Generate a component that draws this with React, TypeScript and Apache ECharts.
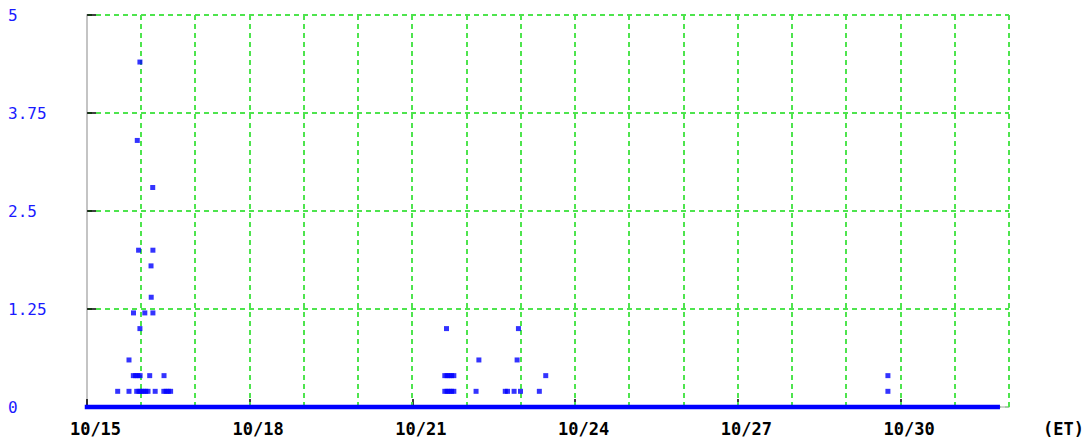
import React, { useEffect, useRef } from "react";
import * as echarts from "echarts";

const pointTimes: string[] = [
  // 10/15 - 10/16 cluster
  "10/15 23:25", "10/15 22:15", "10/16 05:05",
  "10/15 22:50", "10/16 05:10",
  "10/16 04:20", "10/16 04:25",
  "10/15 20:35", "10/16 01:35", "10/16 05:10",
  "10/15 23:25", "10/15 18:35",
  "10/15 20:30", "10/15 21:30", "10/15 22:30", "10/15 23:30", "10/16 03:45", "10/16 10:05",
  "10/15 13:35", "10/15 18:35", "10/15 22:00", "10/15 23:00", "10/16 00:00", "10/16 01:00",
  "10/16 02:00", "10/16 03:00", "10/16 06:10", "10/16 10:00", "10/16 11:00", "10/16 12:00", "10/16 13:00",
  // 10/21 - 10/23 cluster
  "10/21 15:05", "10/22 22:55",
  "10/22 05:25", "10/22 22:20",
  "10/21 14:20", "10/21 15:20", "10/21 16:20", "10/21 17:20", "10/21 18:20", "10/23 11:00",
  "10/21 14:20", "10/21 15:20", "10/21 16:20", "10/21 17:20", "10/21 18:20",
  "10/22 04:10", "10/22 17:05", "10/22 18:05", "10/22 21:00", "10/22 23:50", "10/23 08:10",
  // 10/29
  "10/29 18:25", "10/29 18:25",
];
const pointValues: number[] = [
  4.4, 3.4, 2.8,
  2.0, 2.0,
  1.8, 1.4,
  1.2, 1.2, 1.2,
  1.0, 0.6,
  0.4, 0.4, 0.4, 0.4, 0.4, 0.4,
  0.2, 0.2, 0.2, 0.2, 0.2, 0.2,
  0.2, 0.2, 0.2, 0.2, 0.2, 0.2, 0.2,
  1.0, 1.0,
  0.6, 0.6,
  0.4, 0.4, 0.4, 0.4, 0.4, 0.4,
  0.2, 0.2, 0.2, 0.2, 0.2,
  0.2, 0.2, 0.2, 0.2, 0.2, 0.2,
  0.4, 0.2,
];
// zero readings form a continuous baseline over this period
const zeroStart = "10/15 00:00";
const zeroEnd = "10/31 19:00";
const zeroValue = 0;

const startDay = 15; // axis begins 10/15 00:00
const axisDays = 17; // through 11/01 00:00
const labelDays: number[] = [15, 18, 21, 24, 27, 30];
const yTicks: number[] = [0, 1.25, 2.5, 3.75, 5];
const timeZoneLabel = "(ET)";

function toHours(t: string): number {
  const [md, hm] = t.split(" ");
  const [m, d] = md.split("/").map(Number);
  const [h, mi] = hm.split(":").map(Number);
  const dayOffset = (m === 11 ? d + 31 : d) - startDay;
  return dayOffset * 24 + h + mi / 60;
}

export default function App() {
  const ref = useRef<HTMLDivElement>(null);
  useEffect(() => {
    if (!ref.current) return;
    const chart = echarts.init(ref.current, null, { renderer: "svg" });
    const points = pointTimes.map((t, i) => [toHours(t), pointValues[i]]);
    const labelHours = labelDays.map((d) => (d - startDay) * 24);
    const dayLines: number[][] = [];
    for (let d = 1; d <= axisDays; d++) dayLines.push([d * 24]);
    const green = "#4ee44e";
    chart.setOption({
      animation: false,
      backgroundColor: "#ffffff",
      grid: { left: 87, right: 79, top: 15, bottom: 32, outerBoundsMode: "none" },
      xAxis: {
        type: "value",
        min: 0,
        max: axisDays * 24,
        interval: 24,
        axisLine: { show: true, lineStyle: { color: "#c4c4c4", width: 1.5 } },
        axisTick: {
          show: true,
          inside: true,
          length: 8,
          customValues: labelHours,
          lineStyle: { color: "#000000", width: 1.5 },
        },
        axisLabel: {
          customValues: labelHours,
          formatter: (v: number) => `10/${startDay + Math.round(v / 24)}`,
          color: "#000000",
          fontFamily: "DejaVu Sans Mono",
          fontWeight: "bold",
          fontSize: 17,
          margin: 13,
          padding: [0, 0, 0, 17],
        },
        splitLine: { show: false },
      },
      yAxis: {
        type: "value",
        min: yTicks[0],
        max: yTicks[yTicks.length - 1],
        interval: 1.25,
        axisLine: { show: true, lineStyle: { color: "#c4c4c4", width: 2 } },
        axisTick: { show: true, inside: true, length: 9, lineStyle: { color: "#000000", width: 1.5 } },
        axisLabel: {
          color: "#1a1aff",
          fontFamily: "DejaVu Sans Mono",
          fontSize: 16,
          align: "left",
          margin: 79,
          padding: [3, 0, 0, 0],
        },
        splitLine: { show: true, lineStyle: { color: green, width: 2, type: [5, 4] } },
      },
      graphic: [
        {
          type: "text",
          left: 1043,
          top: 420,
          style: {
            text: timeZoneLabel,
            fill: "#000000",
            font: "bold 17px 'DejaVu Sans Mono'",
          },
        },
      ],
      series: [
        {
          type: "custom",
          name: "dayGrid",
          data: dayLines,
          silent: true,
          z: 1,
          renderItem: (params: any, api: any) => {
            const x = Math.round(api.coord([api.value(0), 0])[0]);
            const top = params.coordSys.y;
            const bottom = top + params.coordSys.height;
            return {
              type: "line",
              shape: { x1: x, y1: top, x2: x, y2: bottom },
              style: { stroke: green, lineWidth: 2, lineDash: [5, 4] },
            };
          },
        },
        {
          type: "line",
          name: "zero",
          data: [
            [toHours(zeroStart), zeroValue],
            [toHours(zeroEnd), zeroValue],
          ],
          showSymbol: false,
          clip: false,
          lineStyle: { color: "#0000ff", width: 4.5, cap: "square" },
          z: 3,
        },
        {
          type: "scatter",
          name: "precip",
          data: points,
          symbol: "rect",
          symbolSize: 5,
          itemStyle: { color: "#0000ff" },
          z: 4,
        },
      ],
    });
    return () => chart.dispose();
  }, []);
  return (
    <div
      ref={ref}
      style={{ position: "fixed", left: 0, top: 0, width: 1088, height: 439 }}
    />
  );
}
